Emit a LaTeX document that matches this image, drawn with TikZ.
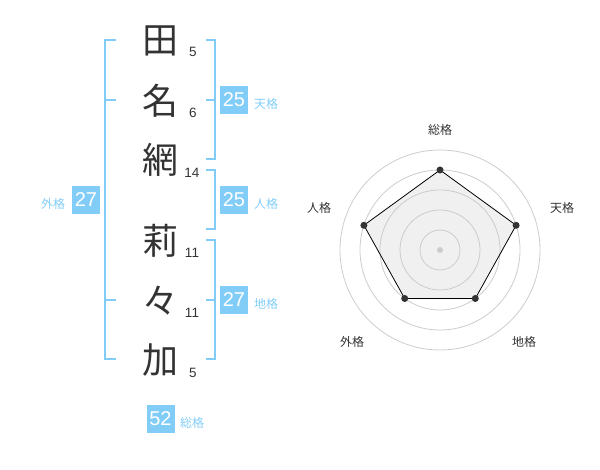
\documentclass[tikz,border=0pt]{standalone}
\usepackage{fontspec}
\setmainfont{Liberation Sans}
\newfontfamily\jp{Noto Sans CJK JP}
\definecolor{kblue}{HTML}{82CDF8}
\definecolor{ink}{HTML}{333333}
\definecolor{ringgray}{HTML}{CCCCCC}
\definecolor{polyfill}{HTML}{F0F0F0}
\begin{document}
\begin{tikzpicture}[x=1pt,y=-1pt,
  kanji/.style={font=\jp\fontsize{36}{36}\selectfont, text=ink, inner sep=0pt},
  strokes/.style={font=\fontsize{13.5}{13.5}\selectfont, text=ink, inner sep=0pt},
  scorebox/.style={fill=kblue, text=white, minimum width=28pt, minimum height=28pt, inner sep=0pt, font=\fontsize{20}{20}\selectfont},
  kakulabel/.style={text=kblue, font=\jp\fontsize{12}{12}\selectfont, inner sep=0pt},
  bracket/.style={draw=kblue, line width=2pt},
  axislabel/.style={text=ink, font=\jp\fontsize{12}{12}\selectfont, inner sep=0pt},
  ring/.style={draw=ringgray, line width=0.8pt},
  vertex/.style={circle, fill=ink, inner sep=0pt, minimum size=7pt}]
\useasboundingbox (0,0) rectangle (600,470);

% characters
\node[kanji] (k1) at (160,41) {田};
\node[kanji] (k2) at (160,101) {名};
\node[kanji] (k3) at (160,160) {網};
\node[kanji] (k4) at (160,241) {莉};
\node[kanji] (k5) at (160,301) {々};
\node[kanji] (k6) at (160,360) {加};

% stroke counts
\node[strokes] (s1) at (193,52) {5};
\node[strokes] (s2) at (193,113) {6};
\node[strokes] (s3) at (192,173) {14};
\node[strokes] (s4) at (192,253) {11};
\node[strokes] (s5) at (192,313) {11};
\node[strokes] (s6) at (193,373) {5};

% brackets
\coordinate (gA) at (116,40);
\coordinate (gB) at (105,40);
\coordinate (gC) at (105,359);
\coordinate (gD) at (116,359);
\draw[bracket] (gA) -- (gB) -- (gC) -- (gD);
\coordinate (gM1) at (116,100);
\coordinate (gM2) at (105,100);
\coordinate (gM3) at (116,300);
\coordinate (gM4) at (105,300);
\draw[bracket] (gM2) -- (gM1);
\draw[bracket] (gM4) -- (gM3);

\coordinate (tA) at (206,40);
\coordinate (tB) at (215,40);
\coordinate (tC) at (215,159);
\coordinate (tD) at (206,159);
\coordinate (tM1) at (206,100);
\coordinate (tM2) at (215,100);
\draw[bracket] (tA) -- (tB) -- (tC) -- (tD);
\draw[bracket] (tM1) -- (tM2);

\coordinate (jA) at (206,170);
\coordinate (jB) at (215,170);
\coordinate (jC) at (215,229);
\coordinate (jD) at (206,229);
\draw[bracket] (jA) -- (jB) -- (jC) -- (jD);

\coordinate (cA) at (206,240);
\coordinate (cB) at (215,240);
\coordinate (cC) at (215,359);
\coordinate (cD) at (206,359);
\coordinate (cM1) at (206,300);
\coordinate (cM2) at (215,300);
\draw[bracket] (cA) -- (cB) -- (cC) -- (cD);
\draw[bracket] (cM1) -- (cM2);

% score boxes
\node[scorebox] (ten) at (234,100) {25};
\node[kakulabel] (tenL) at (266,104) {天格};
\node[scorebox] (jin) at (234,200) {25};
\node[kakulabel] (jinL) at (266,204) {人格};
\node[scorebox] (chi) at (234,300) {27};
\node[kakulabel] (chiL) at (266,304) {地格};
\node[scorebox] (gai) at (86,200) {27};
\node[kakulabel] (gaiL) at (53,204) {外格};
\node[scorebox] (sou) at (160.5,419) {52};
\node[kakulabel] (souL) at (192,423) {総格};

% radar chart
\coordinate (rc) at (440,250);
\coordinate (q1) at (440,170);
\coordinate (q2) at (516.1,225.3);
\coordinate (q3) at (475.3,298.5);
\coordinate (q4) at (404.7,298.5);
\coordinate (q5) at (363.9,225.3);
\fill[polyfill] (q1) -- (q2) -- (q3) -- (q4) -- (q5) -- cycle;
\foreach \r in {20,40,60,80,100} \draw[ring] (rc) circle[radius=\r];
\fill[ringgray] (rc) circle[radius=3];
\draw[black, line width=0.8pt] (q1) -- (q2) -- (q3) -- (q4) -- (q5) -- cycle;
\node[vertex] (p1) at (q1) {};
\node[vertex] (p2) at (q2) {};
\node[vertex] (p3) at (q3) {};
\node[vertex] (p4) at (q4) {};
\node[vertex] (p5) at (q5) {};

\node[axislabel] (a1) at (440,130) {総格};
\node[axislabel] (a2) at (562,208) {天格};
\node[axislabel] (a3) at (524,342) {地格};
\node[axislabel] (a4) at (352,342) {外格};
\node[axislabel] (a5) at (319,208) {人格};
\end{tikzpicture}
\end{document}
